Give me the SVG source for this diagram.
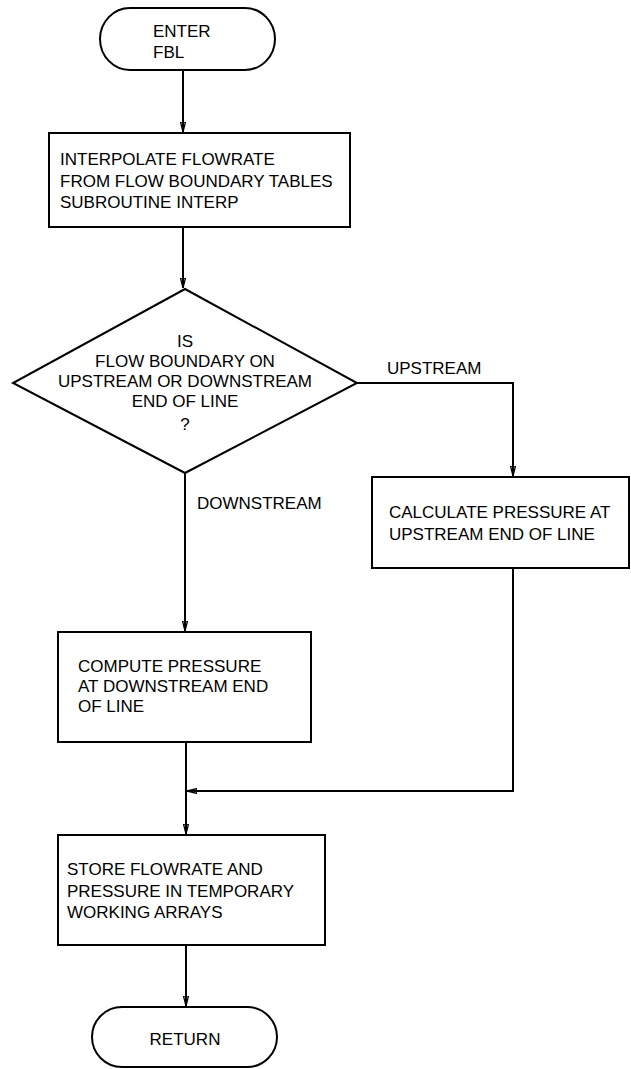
<svg xmlns="http://www.w3.org/2000/svg" width="631" height="1069" viewBox="0 0 631 1069">
<style>
.shape{fill:#fff;stroke:#000;stroke-width:2}
.conn{fill:none;stroke:#000;stroke-width:2}
text{font-family:"Liberation Sans",Arial,sans-serif;font-size:17px;fill:#000}
.c{text-anchor:middle}
</style>
<defs>
<marker id="arr" viewBox="0 0 10 6" refX="10" refY="3" markerWidth="10" markerHeight="6" markerUnits="userSpaceOnUse" orient="auto">
<path d="M0,0.5 L10,3 L0,5.5 Z" fill="none" stroke="#000" stroke-width="1.3"/>
</marker>
</defs>
<rect width="631" height="1069" fill="#fff"/>
<g id="connectors">
<path class="conn" d="M183,70 V132" marker-end="url(#arr)"/>
<path class="conn" d="M183,227 V288" marker-end="url(#arr)"/>
<path class="conn" d="M357,383 H513 V476" marker-end="url(#arr)"/>
<path class="conn" d="M185,473 V631" marker-end="url(#arr)"/>
<path class="conn" d="M513,568 V791 H187" marker-end="url(#arr)"/>
<path class="conn" d="M186,742 V834" marker-end="url(#arr)"/>
<path class="conn" d="M186,945 V1006" marker-end="url(#arr)"/>
</g>
<g id="enter">
<rect class="shape" x="100" y="8" width="175" height="62" rx="30" ry="31"/>
<text x="153" y="37">ENTER</text>
<text x="153" y="58">FBL</text>
</g>
<g id="interpolate">
<rect class="shape" x="49" y="133" width="301" height="94"/>
<text x="60" y="165">INTERPOLATE FLOWRATE</text>
<text x="60" y="187">FROM FLOW BOUNDARY TABLES</text>
<text x="60" y="208">SUBROUTINE INTERP</text>
</g>
<g id="decision">
<polygon class="shape" points="185,289 357,383 185,473 13,383"/>
<text class="c" x="185" y="347">IS</text>
<text class="c" x="185" y="367">FLOW BOUNDARY ON</text>
<text class="c" x="185" y="387">UPSTREAM OR DOWNSTREAM</text>
<text class="c" x="185" y="407">END OF LINE</text>
<text class="c" x="185" y="430">?</text>
</g>
<g id="labels">
<text x="387" y="374">UPSTREAM</text>
<text x="197" y="509">DOWNSTREAM</text>
</g>
<g id="calculate">
<rect class="shape" x="372" y="477" width="257" height="91"/>
<text x="389" y="518">CALCULATE PRESSURE AT</text>
<text x="389" y="540">UPSTREAM END OF LINE</text>
</g>
<g id="compute">
<rect class="shape" x="58" y="632" width="253" height="110"/>
<text x="78" y="672">COMPUTE PRESSURE</text>
<text x="78" y="692">AT DOWNSTREAM END</text>
<text x="78" y="712">OF LINE</text>
</g>
<g id="store">
<rect class="shape" x="58" y="835" width="267" height="110"/>
<text x="67" y="875">STORE FLOWRATE AND</text>
<text x="67" y="897">PRESSURE IN TEMPORARY</text>
<text x="67" y="918">WORKING ARRAYS</text>
</g>
<g id="return">
<rect class="shape" x="92" y="1007" width="185" height="60" rx="30" ry="30"/>
<text class="c" x="185" y="1045">RETURN</text>
</g>
</svg>
